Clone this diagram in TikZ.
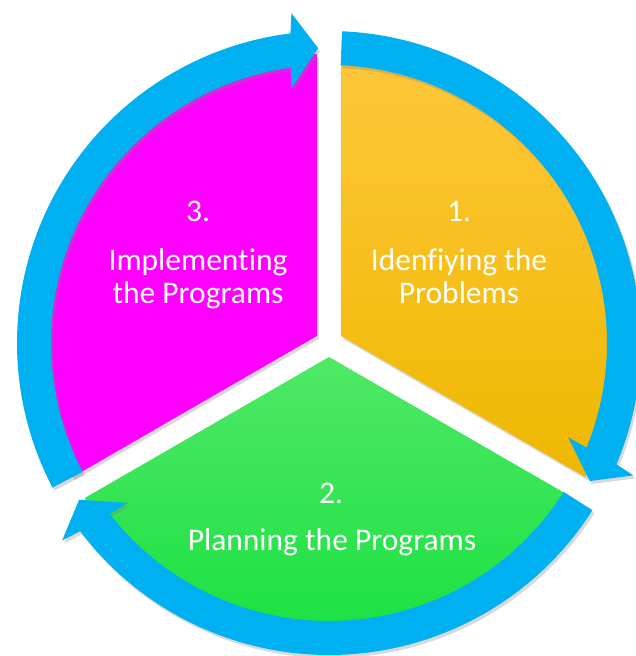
\documentclass[tikz,border=0pt]{standalone}
\usepackage{fontspec}
\setmainfont[Ligatures=NoCommon]{Carlito}
\usetikzlibrary{shadows}

\definecolor{ringblue}{RGB}{0,176,240}
\definecolor{orangetop}{RGB}{255,199,58}
\definecolor{orangebot}{RGB}{238,184,0}
\definecolor{greentop}{RGB}{80,232,102}
\definecolor{greenbot}{RGB}{18,224,60}
\definecolor{pinkfill}{RGB}{255,0,255}

\begin{document}
\begin{tikzpicture}[x=1pt, y=1pt,
    cyctext/.style={text=white, font=\fontsize{31.5}{33}\selectfont, align=center, inner sep=0pt},
    wedge/.style={drop shadow={shadow xshift=2pt, shadow yshift=-3pt, opacity=0.3}},
    ring/.style={fill=ringblue, drop shadow={shadow xshift=2pt, shadow yshift=-3pt, opacity=0.3}}]
    \useasboundingbox (-329,-313) rectangle (306,343);

    % the three sectors
    \path[wedge, top color=orangetop, bottom color=orangebot]
        (30:14) -- ++(-30:282) arc[start angle=-30, end angle=90, radius=282] -- cycle;
    \path[wedge, top color=greentop, bottom color=greenbot]
        (270:14) -- ++(210:282) arc[start angle=210, end angle=330, radius=282] -- cycle;
    \path[wedge, fill=pinkfill]
        (150:14) -- ++(90:282) arc[start angle=90, end angle=210, radius=282] -- cycle;

    % circular arrows
    \foreach \t in {87.6,-32.4,-152.4}
        \fill[ring] (\t:312) arc[start angle=\t, end angle=\t-110.5, radius=312]
            -- ({\t-111.1}:332) -- ({\t-115.5}:295) -- ({\t-109.1}:257) -- ({\t-109.7}:278)
            arc[start angle=\t-109.7, end angle=\t, radius=278] -- cycle;

    \node[cyctext] (num1) at (130,132) {1.};
    \node[cyctext] (identify) at (130,67) {Idenfiying the\\Problems};
    \node[cyctext] (num2) at (2,-150) {2.};
    \node[cyctext] (planning) at (3,-199) {Planning the Programs};
    \node[cyctext] (num3) at (-131,132) {3.};
    \node[cyctext] (implement) at (-131,64) {Implementing\\the Programs};
\end{tikzpicture}
\end{document}
